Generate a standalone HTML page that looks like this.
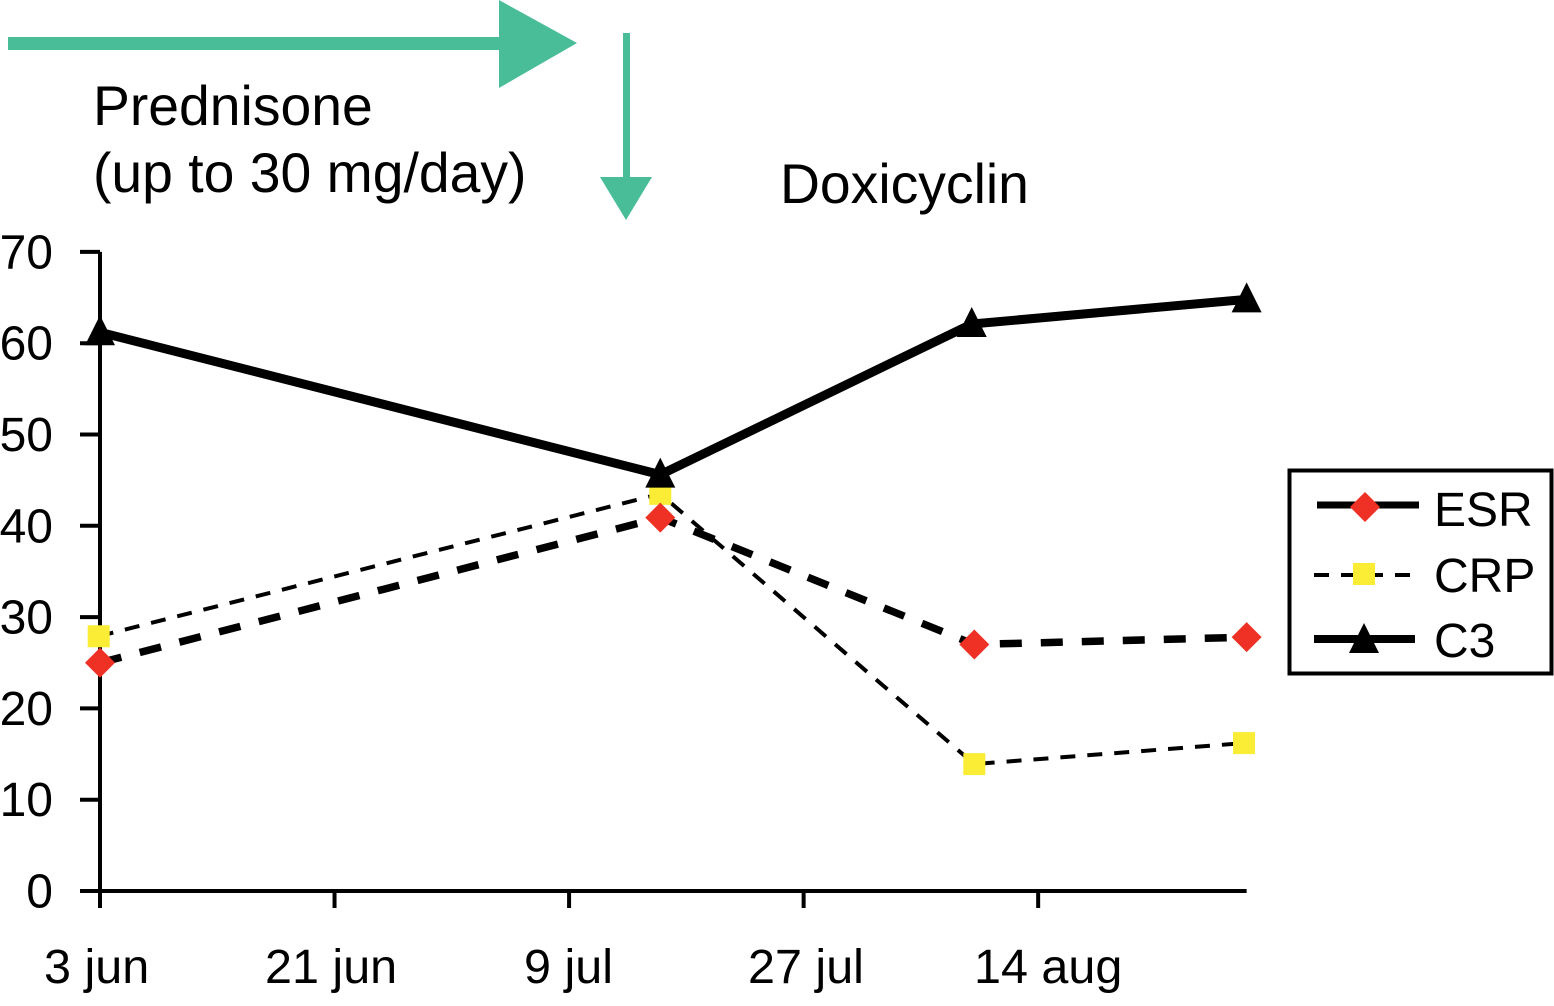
<!DOCTYPE html>
<html>
<head>
<meta charset="utf-8">
<title>ESR, CRP and C3 over time</title>
<style>
html,body{margin:0;padding:0;background:#fff;width:1554px;height:1006px;overflow:hidden}
svg{display:block}
text{font-family:"Liberation Sans",Arial,sans-serif;fill:#000}
</style>
</head>
<body>
<svg id="chart" xmlns="http://www.w3.org/2000/svg" width="1554" height="1006" viewBox="0 0 1554 1006">
  <rect x="0" y="0" width="1554" height="1006" fill="#ffffff"/>
  <g fill="#48bd98">
    <rect x="8" y="37" width="492" height="13"/>
    <polygon points="499,0 577,43 499,88"/>
  </g>
  <g fill="#48bd98">
    <rect x="623" y="33" width="7" height="145"/>
    <polygon points="600,177 652,177 626,220"/>
  </g>
  <text x="93" y="125" font-size="55.3">Prednisone</text>
  <text x="93" y="192" font-size="55.3">(up to 30 mg/day)</text>
  <text x="780" y="203" font-size="55.3">Doxicyclin</text>
  <g id="axes"></g>
  <g id="series"></g>
  <g>
    <rect x="1289.5" y="470.5" width="262" height="203" fill="#fff" stroke="#000" stroke-width="4"/>
    <g>
      <line x1="1317" y1="505" x2="1419" y2="505" stroke="#000" stroke-width="7"/>
      <polygon points="1365,492 1380,507 1365,522 1350,507" fill="#ee3124"/>
      <text x="1434" y="526" font-size="48">ESR</text>
    </g>
    <g>
      <line x1="1314" y1="575" x2="1412" y2="575" stroke="#000" stroke-width="4" stroke-dasharray="15 12"/>
      <rect x="1353" y="563" width="22" height="22" fill="#fbec35"/>
      <text x="1434" y="592" font-size="48">CRP</text>
    </g>
    <g>
      <line x1="1314" y1="639" x2="1415" y2="639" stroke="#000" stroke-width="8"/>
      <polygon points="1364,623 1379,653 1349,653" fill="#000"/>
      <text x="1434" y="657" font-size="48">C3</text>
    </g>
  </g>
</svg>
<script>
const yTicks = [0, 10, 20, 30, 40, 50, 60, 70];
const xTickDays = [0, 18, 36, 54, 72];
const xTickLabels = ['3 jun', '21 jun', '9 jul', '27 jul', '14 aug'];
const esrDays = [0, 43, 67.1, 88];
const esrValues = [25, 40.9, 27, 27.8];
const crpDays = [-0.1, 43, 67.1, 87.8];
const crpValues = [27.9, 43.5, 13.9, 16.2];
const c3Days = [0, 43, 66.9, 88];
const c3Values = [61.2, 45.6, 62.1, 64.8];

const NS = 'http://www.w3.org/2000/svg';
const xAt = function (day) { return 100 + day * 13.03; };
const yAt = function (v) { return 891 - v * 9.13; };

function make(parent, tag, attrs) {
  const el = document.createElementNS(NS, tag);
  Object.keys(attrs).forEach(function (k) { el.setAttribute(k, attrs[k]); });
  parent.appendChild(el);
  return el;
}

const axes = document.getElementById('axes');
const series = document.getElementById('series');

const yAxis = make(axes, 'line', { x1: xAt(0), y1: yAt(70), x2: xAt(0), y2: yAt(0), stroke: '#000', 'stroke-width': 4 });


const xAxis = make(axes, 'line', { x1: xAt(0) - 20, y1: yAt(0), x2: xAt(88), y2: yAt(0), stroke: '#000', 'stroke-width': 4 });



yTicks.forEach(function (v) {
  const tick = make(axes, 'line', { x1: xAt(0) - 20, y1: yAt(v), x2: xAt(0), y2: yAt(v), stroke: '#000', 'stroke-width': 4 });
  
  
  const label = make(axes, 'text', { x: 53, y: yAt(v) + 16.5, 'font-size': 48, 'text-anchor': 'end' });
  label.textContent = String(v);
  
  
});

const xLabelLeft = [44, 265, 524, 748, 974];
xTickDays.forEach(function (d, i) {
  const tick = make(axes, 'line', { x1: xAt(d), y1: yAt(0), x2: xAt(d), y2: yAt(0) + 17, stroke: '#000', 'stroke-width': 4 });
  
  
  const label = make(axes, 'text', { x: xLabelLeft[i], y: 983, 'font-size': 48.5 });
  label.textContent = xTickLabels[i];
  
  
});

function pathPoints(days, values) {
  return days.map(function (d, i) { return xAt(d) + ',' + yAt(values[i]); }).join(' ');
}

const esrLine = make(series, 'polyline', { points: pathPoints(esrDays, esrValues), fill: 'none', stroke: '#000', 'stroke-width': 7.5, 'stroke-dasharray': '22 19' });


const crpLine = make(series, 'polyline', { points: pathPoints(crpDays, crpValues), fill: 'none', stroke: '#000', 'stroke-width': 4, 'stroke-dasharray': '15 12' });


const c3Line = make(series, 'polyline', { points: pathPoints(c3Days, c3Values), fill: 'none', stroke: '#000', 'stroke-width': 9 });



crpDays.forEach(function (d, i) {
  const x = xAt(d), y = yAt(crpValues[i]);
  const m = make(series, 'rect', { x: x - 11, y: y - 11, width: 22, height: 22, fill: '#fbec35' });
  
  
});
esrDays.forEach(function (d, i) {
  const x = xAt(d), y = yAt(esrValues[i]);
  const m = make(series, 'polygon', { points: x + ',' + (y - 15) + ' ' + (x + 15) + ',' + y + ' ' + x + ',' + (y + 15) + ' ' + (x - 15) + ',' + y, fill: '#ee3124' });
  
  
});
c3Days.forEach(function (d, i) {
  const x = xAt(d), y = yAt(c3Values[i]);
  const m = make(series, 'polygon', { points: x + ',' + (y - 17) + ' ' + (x + 15) + ',' + (y + 13) + ' ' + (x - 15) + ',' + (y + 13), fill: '#000' });
  
  
});
</script>
</body>
</html>
